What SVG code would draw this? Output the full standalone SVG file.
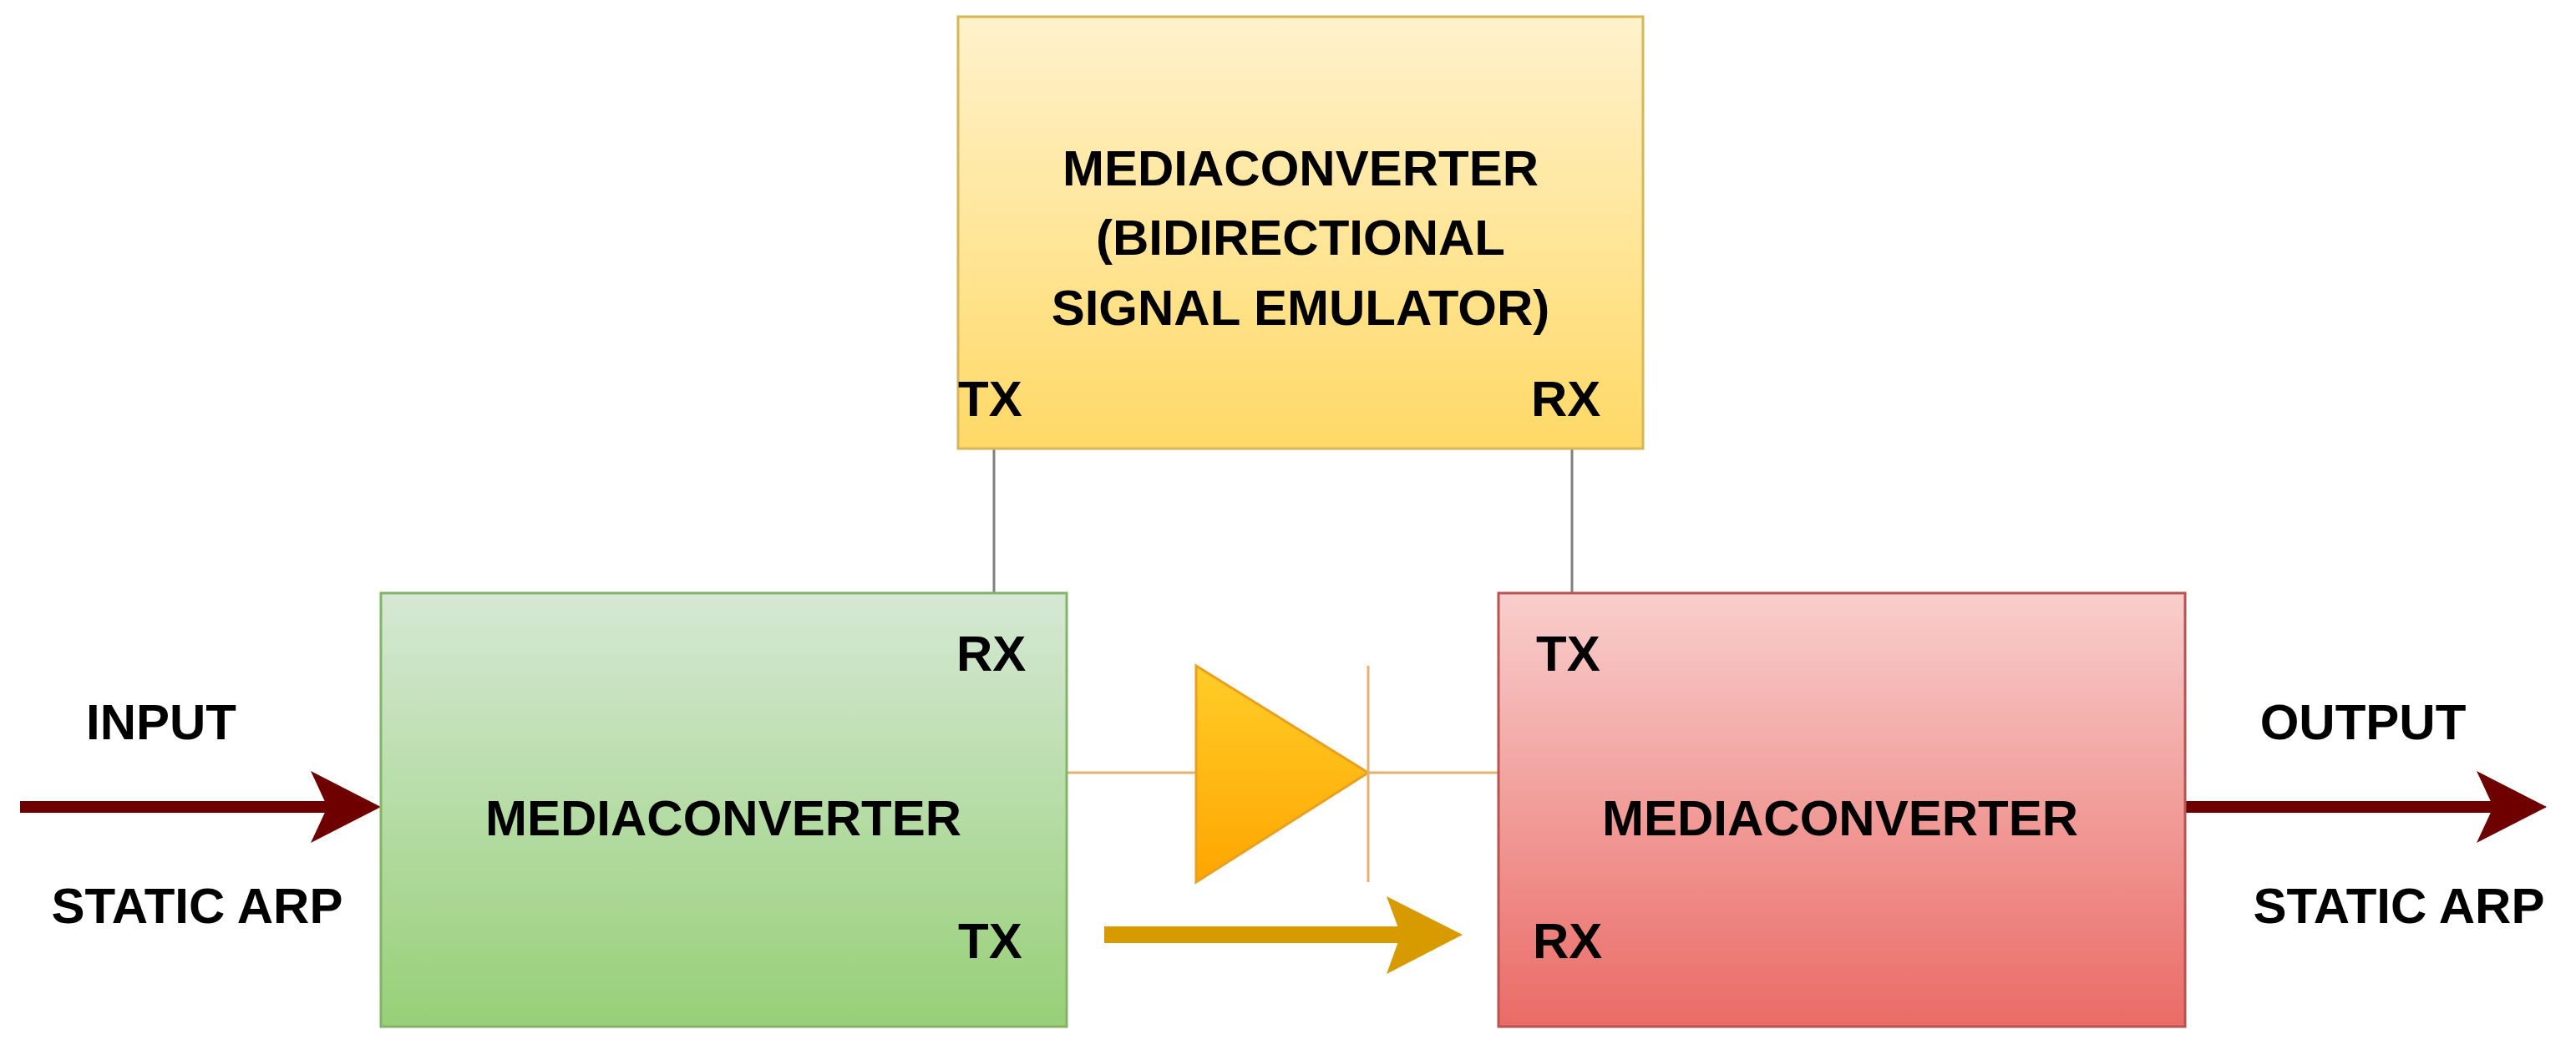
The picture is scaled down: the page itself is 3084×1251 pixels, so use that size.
<svg xmlns="http://www.w3.org/2000/svg" width="3084" height="1251" viewBox="0 0 3084 1251">
<defs>
<linearGradient id="gy" x1="0" y1="0" x2="0" y2="1"><stop offset="0" stop-color="#fff2cc"/><stop offset="1" stop-color="#ffd966"/></linearGradient>
<linearGradient id="gg" x1="0" y1="0" x2="0" y2="1"><stop offset="0" stop-color="#d5e8d4"/><stop offset="1" stop-color="#97d077"/></linearGradient>
<linearGradient id="gr" x1="0" y1="0" x2="0" y2="1"><stop offset="0" stop-color="#f8cecc"/><stop offset="1" stop-color="#ea6b66"/></linearGradient>
<linearGradient id="go" x1="0" y1="0" x2="0" y2="1"><stop offset="0" stop-color="#ffcd28"/><stop offset="1" stop-color="#ffa500"/></linearGradient>
</defs>
<style>
text{font-family:"Liberation Sans",Arial,sans-serif;font-weight:bold;font-size:60px;fill:#000}
.m{text-anchor:middle}
</style>
<rect width="3084" height="1251" fill="#fff"/>
<g id="connectors">
<line x1="1190" y1="537" x2="1190" y2="710" stroke="#808080" stroke-width="3"/>
<line x1="1882" y1="537" x2="1882" y2="710" stroke="#808080" stroke-width="3"/>
<line x1="1277" y1="925" x2="1794" y2="925" stroke="#e8b070" stroke-width="3"/>
<g id="in-arrow"><line x1="24" y1="966" x2="400" y2="966" stroke="#6f0000" stroke-width="14"/>
<path d="M456 966 L372 923 L392 966 L372 1009 Z" fill="#6f0000"/></g>
<g id="out-arrow"><line x1="2616" y1="966" x2="2990" y2="966" stroke="#6f0000" stroke-width="14"/>
<path d="M3049 966 L2965 923 L2985 966 L2965 1009 Z" fill="#6f0000"/></g>
<g id="tx-arrow"><line x1="1322" y1="1119" x2="1700" y2="1119" stroke="#d79b00" stroke-width="20"/>
<path d="M1751 1119 L1660 1073 L1677 1119 L1660 1166 Z" fill="#d79b00"/></g>
</g>
<g id="emulator">
<rect x="1147" y="20" width="820" height="517" fill="url(#gy)" stroke="#d6b656" stroke-width="3"/>
<text class="m" x="1557" y="222">MEDIACONVERTER</text>
<text class="m" x="1557" y="305">(BIDIRECTIONAL</text>
<text class="m" x="1557" y="389">SIGNAL EMULATOR)</text>
<text x="1147" y="498">TX</text>
<text x="1833" y="498">RX</text>
</g>
<g id="mc-left">
<rect x="456" y="710" width="821" height="519" fill="url(#gg)" stroke="#82b366" stroke-width="3"/>
<text class="m" x="866" y="1000">MEDIACONVERTER</text>
<text x="1145" y="803">RX</text>
<text x="1147" y="1147">TX</text>
</g>
<g id="mc-right">
<rect x="1794" y="710" width="822" height="519" fill="url(#gr)" stroke="#b85450" stroke-width="3"/>
<text class="m" x="2203" y="1000">MEDIACONVERTER</text>
<text x="1839" y="803">TX</text>
<text x="1835" y="1147">RX</text>
</g>
<g id="diode">
<path d="M1432 797 L1638 925 L1432 1056 Z" fill="url(#go)" stroke="#e8a020" stroke-width="3"/>
<line x1="1638" y1="797" x2="1638" y2="1056" stroke="#e8b070" stroke-width="3"/>
</g>
<g id="labels">
<text class="m" x="193" y="885">INPUT</text>
<text class="m" x="236" y="1105">STATIC ARP</text>
<text class="m" x="2829" y="885">OUTPUT</text>
<text class="m" x="2872" y="1105">STATIC ARP</text>
</g>
</svg>
